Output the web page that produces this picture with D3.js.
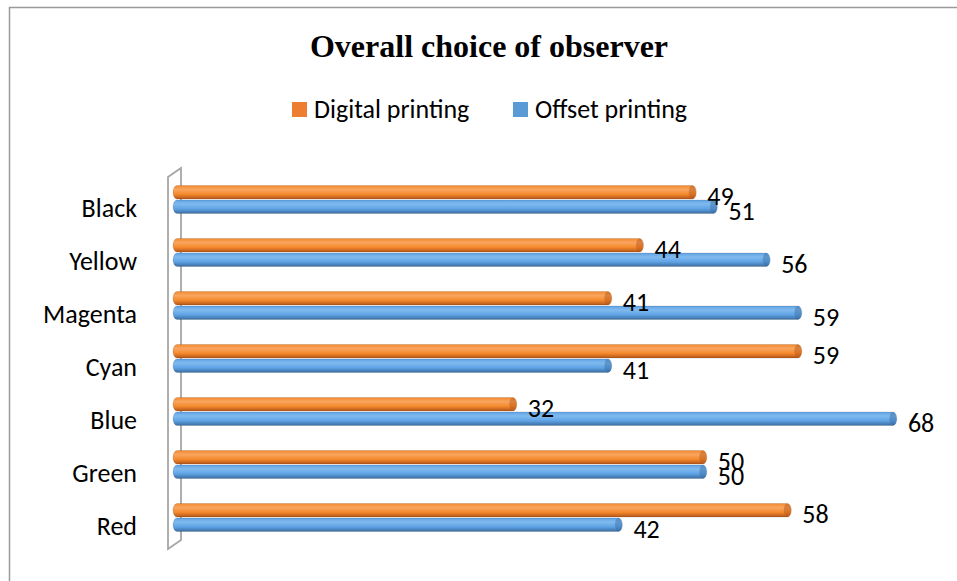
<!DOCTYPE html>
<html>
<head>
<meta charset="utf-8">
<script src="https://cdn.jsdelivr.net/npm/d3@7"></script>
<style>
  body { margin: 0; background: #fff; }
  svg { display: block; }
  .lbl { font-family: Calibri, Carlito, Lato, sans-serif; fill: #000; }
</style>
</head>
<body>
<svg id="chart"></svg>
<script>
var WIDTH = 957;
var HEIGHT = 581;

// chart data
var categories = ['Black', 'Yellow', 'Magenta', 'Cyan', 'Blue', 'Green', 'Red'];
var seriesNames = ['Digital printing', 'Offset printing'];
var digital = [49, 44, 41, 59, 32, 50, 58];
var offset = [51, 56, 59, 41, 68, 50, 42];
var title = 'Overall choice of observer';

var seriesColors = {
  'Digital printing': { light: '#f8a55f', mid: '#f5892c', dark: '#b4561a', flat: '#ed7d31' },
  'Offset printing': { light: '#80baee', mid: '#5fa3e6', dark: '#3a6da1', flat: '#5b9bd5' }
};

var svg = d3.select('#chart')
  .attr('width', WIDTH)
  .attr('height', HEIGHT);

// outer chart border (runs off the right and bottom edges)
svg.append('rect')
  .attr('x', 9.5)
  .attr('y', 7.5)
  .attr('width', WIDTH)
  .attr('height', HEIGHT)
  .attr('fill', '#fff')
  .attr('stroke', '#9a9a9a')
  .attr('stroke-width', 1.5);

// gradients to fake the cylinder look
var defs = svg.append('defs');
seriesNames.forEach(function(name, i) {
  var c = seriesColors[name];
  var g = defs.append('linearGradient')
    .attr('id', 'grad' + i)
    .attr('x1', 0).attr('y1', 0)
    .attr('x2', 0).attr('y2', 1);
  g.append('stop').attr('offset', '0%').attr('stop-color', c.mid);
  g.append('stop').attr('offset', '30%').attr('stop-color', c.light);
  g.append('stop').attr('offset', '65%').attr('stop-color', c.mid);
  g.append('stop').attr('offset', '100%').attr('stop-color', c.dark);
});

// scales
var xScale = d3.scaleLinear().domain([0, 70]).range([179, 918]);
var yScale = d3.scaleBand()
  .domain(categories)
  .range([173, 544])
  .paddingInner(0.453)
  .paddingOuter(0.2265);
var ySub = d3.scaleBand()
  .domain(seriesNames)
  .range([0, yScale.bandwidth()]);

// 3d wall on the left of the plot
var wx0 = xScale(0) - 11;
var wx1 = xScale(0) + 2;
var wTop = yScale.range()[0];
var wBot = yScale.range()[1];
svg.append('path')
  .attr('d', 'M' + wx0 + ',' + (wTop + 4) +
    'L' + wx1 + ',' + (wTop - 5) +
    'L' + wx1 + ',' + (wBot - 4) +
    'L' + wx0 + ',' + (wBot + 5) + 'Z')
  .attr('fill', 'none')
  .attr('stroke', '#a6a6a6')
  .attr('stroke-width', 1.8);

// flatten into one record per bar
var points = [];
categories.forEach(function(cat, i) {
  points.push({ cat: cat, name: seriesNames[0], j: 0, value: digital[i] });
  points.push({ cat: cat, name: seriesNames[1], j: 1, value: offset[i] });
});

var bh = ySub.bandwidth();
var barTop = function(d) { return yScale(d.cat) + ySub(d.name); };

var barLayer = svg.append('g');
var bars = barLayer.selectAll('g')
  .data(points)
  .enter()
  .append('g');

bars.append('rect')
  .attr('x', xScale(0) - 6)
  .attr('y', function(d) { return barTop(d) + 0.5; })
  .attr('width', function(d) { return xScale(d.value) - xScale(0) + 6; })
  .attr('height', bh - 1)
  .attr('rx', 4)
  .attr('ry', (bh - 1) / 2)
  .attr('fill', function(d) { return 'url(#grad' + d.j + ')'; })
  .attr('stroke', 'rgba(0,0,0,0.12)')
  .attr('stroke-width', 1);

// darker end cap
bars.append('ellipse')
  .attr('cx', function(d) { return xScale(d.value) - 4; })
  .attr('cy', function(d) { return barTop(d) + bh / 2; })
  .attr('rx', 3.5)
  .attr('ry', (bh - 1) / 2)
  .attr('fill', function(d) { return seriesColors[d.name].dark; })
  .attr('opacity', 0.45);

// value labels, drawn after all bars so nothing covers them
svg.append('g')
  .selectAll('text')
  .data(points)
  .enter()
  .append('text')
  .attr('class', 'lbl')
  .attr('x', function(d) { return xScale(d.value) + 11; })
  .attr('y', function(d) { return barTop(d) + bh / 2 + 4; })
  .attr('dominant-baseline', 'central')
  .style('font-size', '26px')
  .text(function(d) { return d.value; });

// category labels
svg.append('g')
  .selectAll('text')
  .data(categories)
  .enter()
  .append('text')
  .attr('class', 'lbl')
  .attr('x', 137)
  .attr('y', function(d) { return yScale(d) + yScale.bandwidth() / 2 + 8; })
  .attr('text-anchor', 'end')
  .attr('dominant-baseline', 'central')
  .style('font-size', '26px')
  .text(function(d) { return d; });

// title
svg.append('text')
  .attr('x', 489)
  .attr('y', 57)
  .attr('text-anchor', 'middle')
  .style('font-family', '"Times New Roman", "Liberation Serif", serif')
  .style('font-weight', 'bold')
  .style('font-size', '32px')
  .text(title);

// legend
var legendX = [292, 513];
var legend = svg.append('g')
  .selectAll('g')
  .data(seriesNames)
  .enter()
  .append('g')
  .attr('transform', function(d, i) { return 'translate(' + legendX[i] + ',102)'; });

legend.append('rect')
  .attr('width', 15)
  .attr('height', 15)
  .attr('fill', function(d) { return seriesColors[d].flat; });

legend.append('text')
  .attr('class', 'lbl')
  .attr('x', 22)
  .attr('y', 16)
  .style('font-size', '26px')
  .text(function(d) { return d; });
</script>
</body>
</html>
